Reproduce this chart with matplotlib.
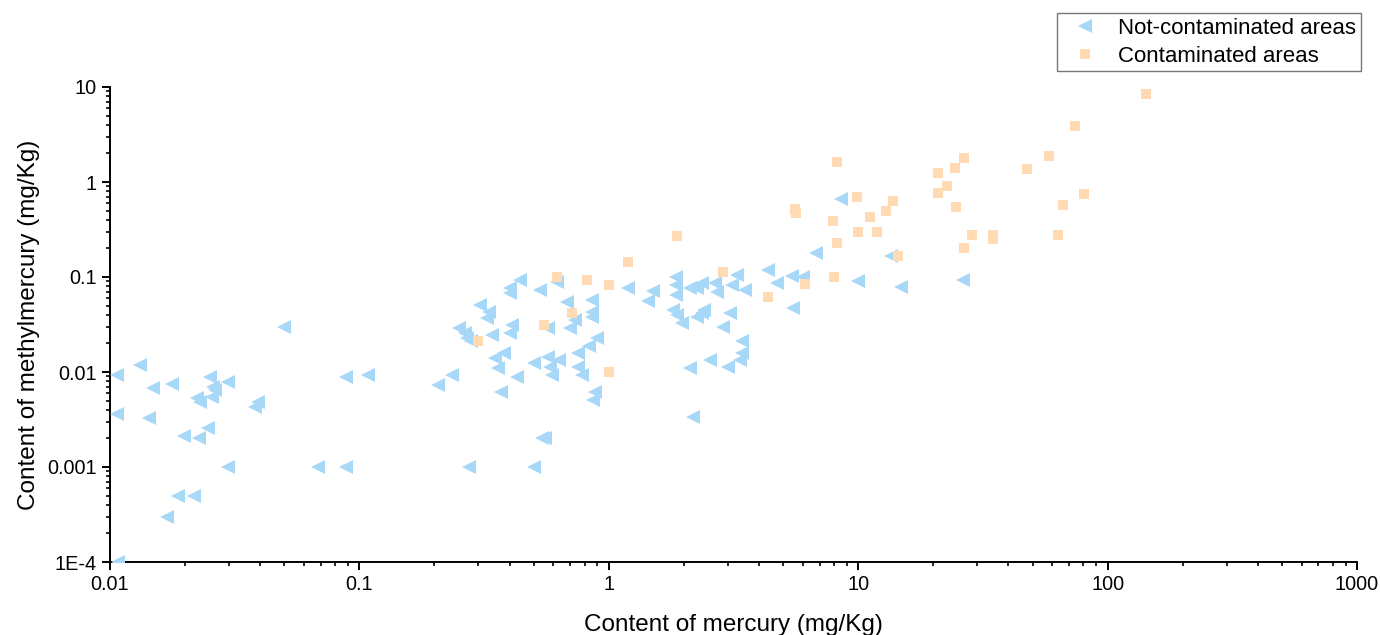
import matplotlib
matplotlib.use("Agg")
import matplotlib.pyplot as plt
from matplotlib.ticker import LogLocator, NullFormatter, FixedLocator, FixedFormatter

plt.rcParams['font.family'] = ['Liberation Sans', 'DejaVu Sans']

# Not-contaminated areas: mercury (mg/Kg), methylmercury (mg/Kg)
nc_hg = [0.0107, 0.0132, 0.0149, 0.0177, 0.0252, 0.0259, 0.0264, 0.0256, 0.0223, 0.0230,
         0.0297, 0.0392, 0.0382, 0.0107, 0.0143, 0.0247, 0.0198, 0.0228, 0.0297, 0.0188,
         0.0217, 0.0169, 0.0108,
         0.050, 0.068, 0.088, 0.088, 0.108,
         0.44, 0.40, 0.40, 0.53, 0.62, 1.19, 0.305, 0.33, 0.325, 0.68,
         0.86, 0.86, 0.86, 0.73, 0.70, 0.57, 0.41, 0.40, 0.34, 0.25,
         0.265, 0.27, 0.28, 0.90, 0.83, 0.75, 0.38, 0.35, 0.36, 0.50,
         0.57, 0.63, 0.58, 0.59, 0.75, 0.78, 0.43, 0.235, 0.207, 0.37,
         0.88, 0.865, 0.54, 0.555, 0.275, 0.50,
         1.51, 1.43, 1.86, 1.86, 1.86, 2.12, 2.26, 2.37, 2.67, 2.72,
         3.13, 3.27, 3.52, 4.36, 4.73, 5.44, 5.49, 1.81, 1.88, 1.97,
         2.26, 2.37, 2.40, 3.07, 2.88, 3.43, 3.43, 3.37, 3.01, 2.55,
         2.12, 2.18,
         8.5, 6.8, 13.5, 6.0, 10.0, 14.8, 26.4]
nc_mehg = [0.0093, 0.0119, 0.0068, 0.0075, 0.0089, 0.0070, 0.0065, 0.0055, 0.0053, 0.0048,
           0.0079, 0.0048, 0.0043, 0.0036, 0.0033, 0.0026, 0.0021, 0.0020, 0.0010, 0.0005,
           0.0005, 0.0003, 0.0001,
           0.030, 0.0010, 0.0010, 0.0089, 0.0093,
           0.093, 0.077, 0.068, 0.073, 0.089, 0.077, 0.051, 0.043, 0.037, 0.055,
           0.057, 0.043, 0.038, 0.035, 0.029, 0.029, 0.031, 0.026, 0.0245, 0.029,
           0.026, 0.023, 0.021, 0.023, 0.019, 0.016, 0.016, 0.014, 0.011, 0.0124,
           0.0144, 0.0134, 0.0113, 0.0093, 0.0113, 0.0093, 0.0089, 0.0093, 0.0073, 0.0062,
           0.0062, 0.0051, 0.0020, 0.0020, 0.0010, 0.0010,
           0.071, 0.056, 0.100, 0.082, 0.065, 0.077, 0.077, 0.086, 0.086, 0.070,
           0.082, 0.105, 0.073, 0.119, 0.086, 0.102, 0.047, 0.045, 0.040, 0.033,
           0.038, 0.042, 0.045, 0.042, 0.030, 0.021, 0.0158, 0.0134, 0.0113, 0.0134,
           0.011, 0.0034,
           0.66, 0.18, 0.166, 0.10, 0.091, 0.079, 0.093]

# Contaminated areas
c_hg = [0.62, 0.82, 1.0, 1.19, 1.88, 2.88, 4.36, 6.1, 8.0, 0.55,
        0.71, 0.30, 1.0, 5.6, 5.65, 8.2, 9.9, 13.8, 12.9, 11.1,
        7.9, 10.0, 11.9, 8.2, 14.5, 20.8, 24.5, 26.6, 22.8, 20.8,
        24.7, 28.7, 26.6, 34.8, 34.8, 47.7, 58.4, 63.5, 66.5, 80.7,
        74.3, 142.0]
c_mehg = [0.10, 0.093, 0.082, 0.144, 0.27, 0.113, 0.062, 0.084, 0.10, 0.031,
          0.042, 0.021, 0.010, 0.52, 0.47, 1.62, 0.69, 0.63, 0.50, 0.43,
          0.39, 0.30, 0.30, 0.23, 0.166, 1.24, 1.40, 1.79, 0.91, 0.77,
          0.55, 0.28, 0.20, 0.28, 0.25, 1.37, 1.88, 0.28, 0.57, 0.75,
          3.9, 8.4]

x_ticks = [0.01, 0.1, 1, 10, 100, 1000]
x_labels = ["0.01", "0.1", "1", "10", "100", "1000"]
y_ticks = [1e-4, 1e-3, 1e-2, 0.1, 1, 10]
y_labels = ["1E-4", "0.001", "0.01", "0.1", "1", "10"]

fig = plt.figure(figsize=(13.8, 6.35), dpi=100)
ax = fig.add_axes([110/1380, 1-562/635, (1357-110)/1380, (562-87)/635])

ax.plot(nc_hg, nc_mehg, linestyle='none', marker='<', markersize=9.5,
        color='#A8D8F8', markeredgewidth=0, label='Not-contaminated areas', zorder=3)
ax.plot(c_hg, c_mehg, linestyle='none', marker='s', markersize=7.2,
        color='#FFDAB3', markeredgewidth=0, label='Contaminated areas', zorder=4)

ax.set_xscale('log')
ax.set_yscale('log')
ax.set_xlim(0.01, 1000)
ax.set_ylim(1e-4, 10)

ax.xaxis.set_major_locator(FixedLocator(x_ticks))
ax.xaxis.set_major_formatter(FixedFormatter(x_labels))
ax.yaxis.set_major_locator(FixedLocator(y_ticks))
ax.yaxis.set_major_formatter(FixedFormatter(y_labels))
ax.xaxis.set_minor_locator(LogLocator(base=10, subs=range(2, 10), numticks=20))
ax.yaxis.set_minor_locator(LogLocator(base=10, subs=range(2, 10), numticks=20))
ax.xaxis.set_minor_formatter(NullFormatter())
ax.yaxis.set_minor_formatter(NullFormatter())

for s in ['top', 'right']:
    ax.spines[s].set_visible(False)
for s in ['left', 'bottom']:
    ax.spines[s].set_linewidth(1.4)
    ax.spines[s].set_color('black')

ax.tick_params(which='major', direction='out', length=5.5, width=1.4, labelsize=14.3, pad=4, colors='black')
ax.tick_params(which='minor', direction='out', length=3, width=1.2)

ax.set_xlabel('Content of mercury (mg/Kg)', fontsize=17.5, labelpad=14)
ax.set_ylabel('Content of methylmercury (mg/Kg)', fontsize=17.5, labelpad=5)

leg = fig.legend(loc='upper right', bbox_to_anchor=(1361/1380, 1-13/635),
                 fontsize=16, frameon=True, fancybox=False, edgecolor='#555555',
                 handlelength=2.1, handletextpad=0.45, labelspacing=0.3,
                 borderpad=0.22, borderaxespad=0, markerscale=1.0)
leg.get_frame().set_linewidth(1.0)

fig.savefig('out.png', dpi=100)
